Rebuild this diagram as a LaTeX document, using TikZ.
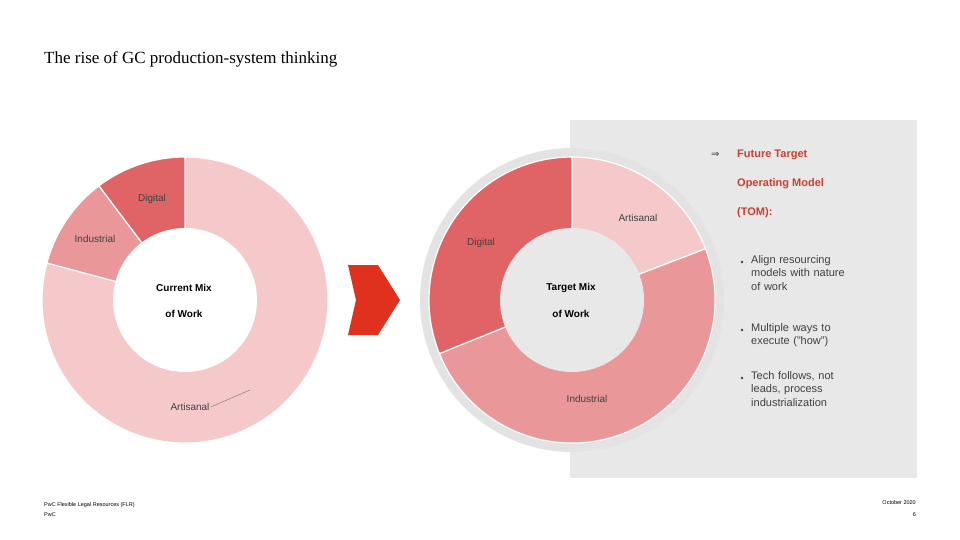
\documentclass[tikz,border=0pt]{standalone}
\usepackage{fontspec}
\setmainfont{Liberation Sans}
\newfontfamily\titlefont{Liberation Serif}
\newfontfamily\symfont{DejaVu Sans}
\definecolor{cdig}{HTML}{E06466}
\definecolor{cind}{HTML}{EA9799}
\definecolor{cart}{HTML}{F5C9CA}
\definecolor{cbg}{HTML}{E8E8E8}
\definecolor{chalo}{HTML}{E3E3E3}
\definecolor{chead}{HTML}{C8402F}
\definecolor{carrow}{HTML}{E0301E}
\definecolor{ctxt}{HTML}{404040}
\tikzset{
  seg/.style={draw=white, line width=1.2pt},
  lbl/.style={font=\fontsize{10}{12}\selectfont, text=ctxt, inner sep=0pt},
  ctr/.style={font=\fontsize{10}{12}\selectfont\bfseries, text=black, inner sep=0pt},
  bul/.style={font=\fontsize{11}{13.5}\selectfont, text=ctxt, align=left, anchor=north west, inner sep=0pt, text width=150pt},
  head/.style={font=\fontsize{11}{13}\selectfont\bfseries, text=chead, anchor=west, inner sep=0pt},
  foot/.style={font=\fontsize{5.5}{7}\selectfont, text=black, inner sep=0pt}
}
\newcommand{\wedgeseg}[6]{% cx,cy,r1,r2,a1,a2
  \fill[#6] (#1,#2) ++(#5:#4) arc[start angle=#5,end angle=#3,radius=#4] -- ++(0,0) -- cycle;}
\begin{document}
\begin{tikzpicture}[x=1pt,y=-1pt]
\useasboundingbox (0,0) rectangle (960,540);
\fill[white] (0,0) rectangle (960,540);
% title
\node[anchor=west, inner sep=0pt, font=\titlefont\fontsize{17}{20}\selectfont, text=black] (title) at (44,59) {The rise of GC production-system thinking};
% grey panel
\fill[cbg] (570,120) rectangle (917,478);
% left donut (center 185,300)
\begin{scope}[shift={(185,300)}, y=1pt]
\fill[cart, seg] (0,0) -- (165:143) arc[start angle=165, end angle=450, radius=143] -- cycle;
\fill[cind, seg] (0,0) -- (127:143) arc[start angle=127, end angle=165, radius=143] -- cycle;
\fill[cdig, seg] (0,0) -- (90:143) arc[start angle=90, end angle=127, radius=143] -- cycle;
\fill[white] (0,0) circle[radius=72];
\end{scope}
% right donut (center 572,300)
\begin{scope}[shift={(572,300)}, y=1pt]
\fill[chalo] (0,0) circle[radius=152];
\fill[cart, seg] (0,0) -- (21:143) arc[start angle=21, end angle=90, radius=143] -- cycle;
\fill[cind, seg] (0,0) -- (-158:143) arc[start angle=-158, end angle=21, radius=143] -- cycle;
\fill[cdig, seg] (0,0) -- (90:143) arc[start angle=90, end angle=202, radius=143] -- cycle;
\fill[cbg] (0,0) circle[radius=72];
\end{scope}
% labels left
\node[lbl] (ldig) at (152,199) {Digital};
\node[lbl] (lind) at (95,239) {Industrial};
\node[lbl] (lart) at (190,407) {Artisanal};
\coordinate (lartend) at (250,390);
\draw[gray, line width=0.5pt] (lart.east) ++(1,0) -- (lartend);
\node[ctr] (lc1) at (184,288) {Current Mix};
\node[ctr] (lc2) at (184,314) {of Work};
% labels right
\node[lbl] (rart) at (638,218) {Artisanal};
\node[lbl] (rdig) at (481,243) {Digital};
\node[lbl] (rind) at (587,399) {Industrial};
\node[ctr] (rc1) at (571,288) {Target Mix};
\node[ctr] (rc2) at (571,314) {of Work};
% block arrow
\fill[carrow] (348,265) -- (378,265) -- (400,300) -- (378,335) -- (348,335) -- (356,300) -- cycle;
% heading
\node[font=\symfont\fontsize{10}{12}\selectfont, text=ctxt, anchor=west, inner sep=0pt] (arr) at (711,155) {⇒};
\node[head] (h1) at (737,155) {Future Target};
\node[head] (h2) at (737,184) {Operating Model};
\node[head] (h3) at (737,213) {(TOM):};
% bullets
\node[bul] (b1) at (751,255) {Align resourcing\\models with nature\\of work};
\node[bul] (b2) at (751,323) {Multiple ways to\\execute ("how")};
\node[bul] (b3) at (751,371) {Tech follows, not\\leads, process\\industrialization};
\foreach \y in {262,330,378} \fill[ctxt] (742,\y) circle[radius=1.3];
% footer
\node[foot, anchor=west] (f1) at (44,505) {PwC Flexible Legal Resources (FLR)};
\node[foot, anchor=west] (f2) at (44,515) {PwC};
\node[foot, anchor=east] (f3) at (916,503) {October 2020};
\node[foot, anchor=east] (f4) at (916,515) {6};
\end{tikzpicture}
\end{document}
